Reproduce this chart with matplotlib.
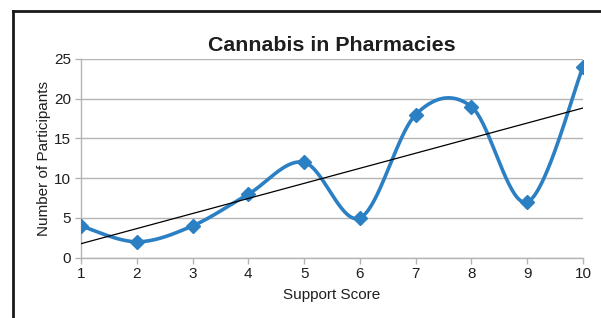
import numpy as np
import matplotlib
matplotlib.use("Agg")
import matplotlib.pyplot as plt
from matplotlib.lines import Line2D

plt.rcParams['font.family'] = ['Liberation Sans', 'DejaVu Sans']

scores = [1, 2, 3, 4, 5, 6, 7, 8, 9, 10]
participants = [4, 2, 4, 8, 12, 5, 18, 19, 7, 24]
yticks = [0, 5, 10, 15, 20, 25]

title = "Cannabis in Pharmacies"
xlabel = "Support Score"
ylabel = "Number of Participants"

blue = "#2b7fc3"
grid_gray = "#b4b4b4"


def smooth(xs, ys, n=40):
    xs = np.asarray(xs, float)
    ys = np.asarray(ys, float)
    px = np.concatenate([[xs[0]], xs, [xs[-1]]])
    py = np.concatenate([[ys[0]], ys, [ys[-1]]])
    outx, outy = [], []
    t = np.linspace(0, 1, n)
    for i in range(1, len(px) - 2):
        p0 = np.array([px[i], py[i]])
        p3 = np.array([px[i + 1], py[i + 1]])
        c1 = p0 + (np.array([px[i + 1], py[i + 1]]) - np.array([px[i - 1], py[i - 1]])) / 6
        c2 = p3 - (np.array([px[i + 2], py[i + 2]]) - np.array([px[i], py[i]])) / 6
        b = ((1 - t) ** 3)[:, None] * p0 + (3 * (1 - t) ** 2 * t)[:, None] * c1 \
            + (3 * (1 - t) * t ** 2)[:, None] * c2 + (t ** 3)[:, None] * p3
        outx.extend(b[:, 0]); outy.extend(b[:, 1])
    return np.array(outx), np.array(outy)


fig = plt.figure(figsize=(6.01, 3.18), dpi=100)
ax = fig.add_axes([81 / 601, 60.3 / 318, 502 / 601, 198.7 / 318])

sx, sy = smooth(scores, participants)
ax.plot(sx, sy, color=blue, lw=2.6, solid_capstyle='round', zorder=3)
ax.plot(scores, participants, linestyle='none', marker='D', ms=7, color=blue, zorder=4)

coef = np.polyfit(scores, participants, 1)
tx = np.array([scores[0], scores[-1]])
ax.plot(tx, np.polyval(coef, tx), color='black', lw=0.9, zorder=5)

ax.set_xlim(1, 10)
ax.set_ylim(0, 25)
ax.set_xticks(scores)
ax.set_yticks(yticks)
ax.yaxis.grid(True, color=grid_gray, lw=1.0)
ax.set_axisbelow(True)
for s in ['top', 'right']:
    ax.spines[s].set_visible(False)
for s in ['left', 'bottom']:
    ax.spines[s].set_color(grid_gray)
    ax.spines[s].set_linewidth(1.0)
ax.tick_params(axis='both', direction='out', length=4, width=1, color=grid_gray,
               labelsize=11, labelcolor='#1e1e1e', pad=3)
ax.set_xlabel(xlabel, fontsize=11, color='#1e1e1e', labelpad=5)
ax.set_ylabel(ylabel, fontsize=11, color='#1e1e1e', labelpad=2)
ax.set_title(title, fontsize=15.4, fontweight='bold', color='#1e1e1e', pad=6)

fig.add_artist(Line2D([12.5 / 601, 12.5 / 601], [0, 1 - 10.5 / 318], transform=fig.transFigure,
                      color='#1a1a1a', lw=2.0, solid_capstyle='projecting'))
fig.add_artist(Line2D([12.5 / 601, 1], [1 - 10.5 / 318, 1 - 10.5 / 318], transform=fig.transFigure,
                      color='#1a1a1a', lw=2.0, solid_capstyle='projecting'))

fig.savefig("out.png", dpi=100)
